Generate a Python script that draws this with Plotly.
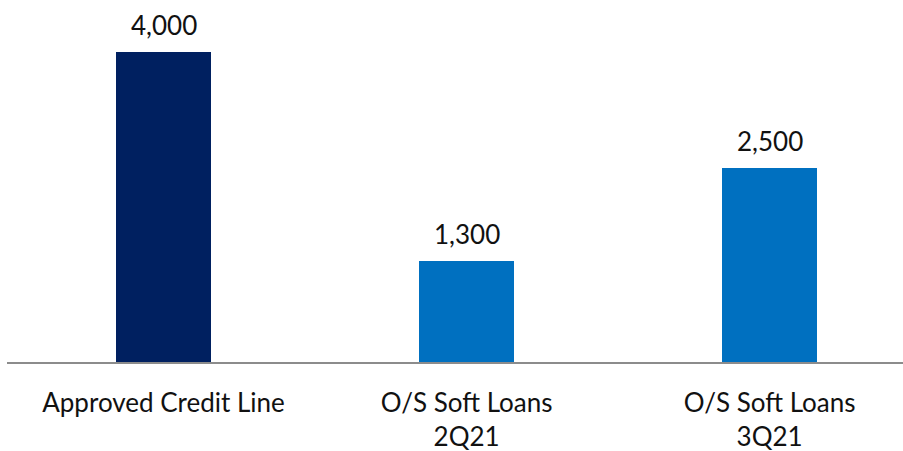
import plotly.graph_objects as go

categories = ["Approved Credit Line", "O/S Soft Loans<br>2Q21", "O/S Soft Loans<br>3Q21"]
values = [4000, 1300, 2500]
labels = ["4,000", "1,300", "2,500"]
colors = ["#002060", "#0070C0", "#0070C0"]

FONT = "Lato"
fig = go.Figure()
fig.add_trace(go.Bar(
    x=list(range(len(categories))), y=values,
    marker=dict(color=colors, line=dict(width=0)),
    width=0.313, hoverinfo="skip",
))
for i, (v, t) in enumerate(zip(values, labels)):
    fig.add_annotation(x=i, y=v, text=t, showarrow=False, yanchor="bottom",
                       yshift=9, font=dict(family=FONT, size=26, color="#111111"))

fig.update_layout(
    width=903, height=451,
    margin=dict(l=7, r=0, t=40, b=89),
    paper_bgcolor="white", plot_bgcolor="white",
    showlegend=False,
    bargap=0,
)
fig.update_xaxes(
    range=[-0.5165, 2.44],
    tickmode="array", tickvals=list(range(len(categories))), ticktext=categories,
    tickfont=dict(family=FONT, size=26, color="#111111"),
    showline=True, linecolor="#8c8c8c", linewidth=2,
    showgrid=False, zeroline=False, ticks="", ticklabelstandoff=17,
)
fig.update_yaxes(range=[0, 4155], visible=False, showgrid=False, zeroline=False)

fig.write_html("out.html")
